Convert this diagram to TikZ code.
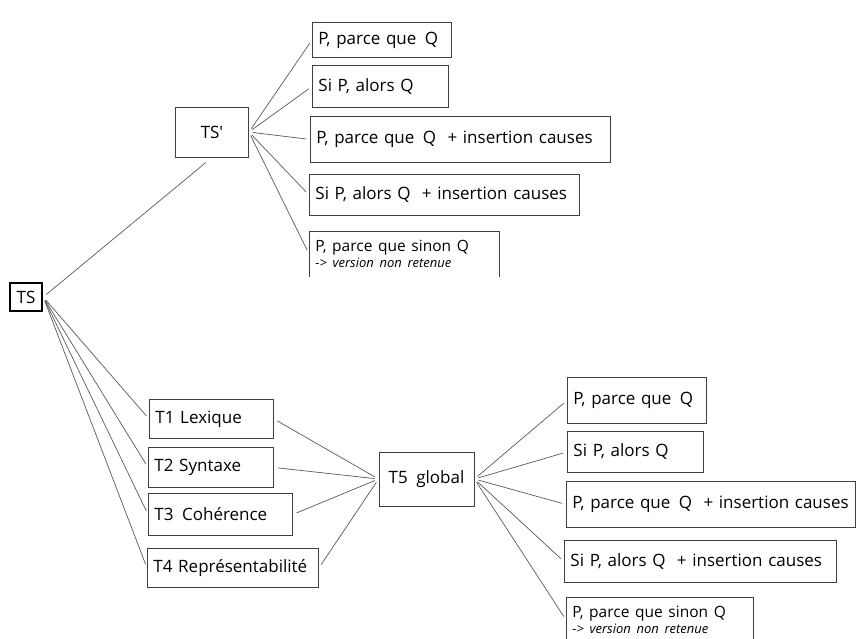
\documentclass[tikz,border=0pt]{standalone}
\usepackage{fontspec}
\setmainfont{Open Sans}[Ligatures = TeXOff]
\usepackage{tikz}

\begin{document}
\begin{tikzpicture}[x = 1pt, y = -1pt,
  box/.style = {draw = black!75, line width = 0.9pt, font = \fontsize{17}{20}\selectfont, inner xsep = 6pt},
  leaf/.style = {box, anchor = north west, align = left},
  open/.style = {leaf, draw = none},
  link/.style = {black!65, line width = 0.7pt, shorten < = 4pt, shorten > = 4pt}]

\useasboundingbox (0,0) rectangle (857,638);

\node[box, draw = black, line width = 2.5pt, inner sep = 0pt, minimum width = 32pt, minimum height = 28pt] (TS) at (26,297) {TS};

\node[box, minimum width = 73pt, minimum height = 50pt] (TSp) at (212,132) {TS'};
\node[leaf, text width = 127pt, minimum height = 35pt] (a1) at (312,22) {P, parce que\enspace Q};
\node[leaf, text width = 124pt, minimum height = 42pt] (a2) at (312,65) {Si P, alors Q};
\node[leaf, text width = 288pt, minimum height = 46pt] (a3) at (310,116) {P, parce que\enspace Q~ + insertion causes};
\node[leaf, text width = 258pt, minimum height = 41pt] (a4) at (309,174) {Si P, alors Q~ + insertion causes};
\node[open, text width = 178pt, minimum height = 45pt] (a5) at (309,231) {{\fontsize{15.5}{17}\selectfont P, parce que sinon Q}\\[-4pt]{\fontsize{13}{15}\selectfont\itshape -> version non retenue}};

\node[leaf, text width = 112pt, minimum height = 39pt] (T1) at (149,399) {T1 Lexique};
\node[leaf, text width = 113pt, minimum height = 40pt] (T2) at (148,447) {T2 Syntaxe};
\node[leaf, text width = 132pt, minimum height = 42pt] (T3) at (148,493) {T3\enspace Cohérence};
\node[leaf, text width = 159pt, minimum height = 39pt] (T4) at (147,548) {T4 Représentabilité};
\node[box, minimum width = 95pt, minimum height = 54pt] (T5) at (426.5,479) {T5\enspace global};

\node[leaf, text width = 127pt, minimum height = 46pt] (b1) at (567,377) {P, parce que\enspace Q};
\node[leaf, text width = 124pt, minimum height = 41pt] (b2) at (567,431) {Si P, alors Q};
\node[leaf, text width = 277pt, minimum height = 46pt] (b3) at (566,481) {P, parce que\enspace Q~ + insertion causes};
\node[leaf, text width = 260pt, minimum height = 42pt] (b4) at (564,540) {Si P, alors Q~ + insertion causes};
\node[open, text width = 175pt, minimum height = 45pt] (b5) at (566,597) {{\fontsize{15.5}{17}\selectfont P, parce que sinon Q}\\[-4pt]{\fontsize{13}{15}\selectfont\itshape -> version non retenue}};

\foreach \n in {a5,b5}
  \draw[black!75, line width = 0.9pt] (\n.south west) -- (\n.north west) -- (\n.north east) -- (\n.south east);

\draw[link, shorten > = 8pt] (TS.east) -- (TSp.south);
\foreach \n in {T1,T2,T3,T4}
  \draw[link] (TS.east) -- (\n.west);
\foreach \n in {a1,a2,a3,a4,a5}
  \draw[link] (TSp.east) -- (\n.west);
\foreach \n in {T1,T2,T3,T4}
  \draw[link] (\n.east) -- (T5.west);
\foreach \n in {b1,b2,b3,b4,b5}
  \draw[link] (T5.east) -- (\n.west);
\end{tikzpicture}
\end{document}
